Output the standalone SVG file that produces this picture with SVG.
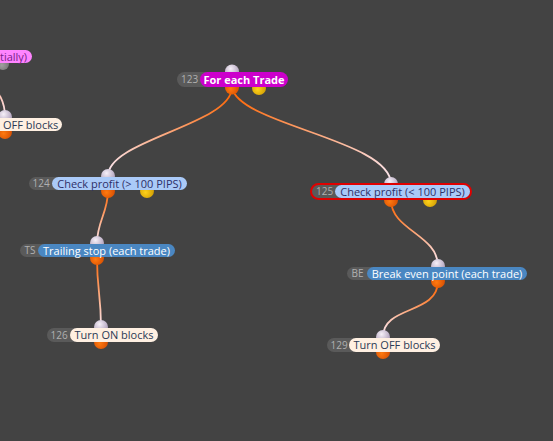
<svg xmlns="http://www.w3.org/2000/svg" width="553" height="441" viewBox="0 0 553 441">
<defs>
<style>
.idp{fill:#5a5a5a}
.idt{font-family:"Open Sans","Noto Sans",sans-serif;font-size:10px;fill:#b0b0b0}
.lt{font-family:"Open Sans","Noto Sans",sans-serif;font-size:11px}
.con{fill:none;stroke-width:1.8}
</style>
<radialGradient id="gIn" cx="0.4" cy="0.3" r="0.7"><stop offset="0" stop-color="#f6f0f8"/><stop offset="1" stop-color="#aa9ab6"/></radialGradient>
<radialGradient id="gOut" cx="0.4" cy="0.6" r="0.7"><stop offset="0" stop-color="#ff7a10"/><stop offset="1" stop-color="#d04800"/></radialGradient>
<radialGradient id="gY" cx="0.4" cy="0.6" r="0.7"><stop offset="0" stop-color="#ffd21a"/><stop offset="1" stop-color="#c89400"/></radialGradient>
<radialGradient id="gG" cx="0.4" cy="0.6" r="0.7"><stop offset="0" stop-color="#a0a0a0"/><stop offset="1" stop-color="#707070"/></radialGradient>
<linearGradient id="c1" gradientUnits="userSpaceOnUse" x1="232" y1="88" x2="108" y2="176"><stop offset="0" stop-color="#ff6400"/><stop offset="1" stop-color="#fbe6ee"/></linearGradient>
<linearGradient id="c2" gradientUnits="userSpaceOnUse" x1="232" y1="88" x2="391" y2="184"><stop offset="0" stop-color="#ff6400"/><stop offset="1" stop-color="#fbe6ee"/></linearGradient>
<linearGradient id="c3" gradientUnits="userSpaceOnUse" x1="108" y1="191" x2="97" y2="243"><stop offset="0" stop-color="#ff6400"/><stop offset="1" stop-color="#fbe6ee"/></linearGradient>
<linearGradient id="c4" gradientUnits="userSpaceOnUse" x1="97" y1="258" x2="101" y2="327"><stop offset="0" stop-color="#ff6400"/><stop offset="1" stop-color="#fbe6ee"/></linearGradient>
<linearGradient id="c5" gradientUnits="userSpaceOnUse" x1="391" y1="200" x2="438" y2="266"><stop offset="0" stop-color="#ff6400"/><stop offset="1" stop-color="#fbe6ee"/></linearGradient>
<linearGradient id="c6" gradientUnits="userSpaceOnUse" x1="438" y1="281" x2="383" y2="337"><stop offset="0" stop-color="#ff6400"/><stop offset="1" stop-color="#fbe6ee"/></linearGradient>
<linearGradient id="c7" gradientUnits="userSpaceOnUse" x1="-12" y1="70" x2="5" y2="117"><stop offset="0" stop-color="#ff9a70"/><stop offset="1" stop-color="#fbe6ee"/></linearGradient>
</defs>
<rect width="553" height="441" fill="#434343"/>

<g id="connectors">
<path class="con" stroke="url(#c1)" d="M232 88 C230 125 108 140 108 176"/>
<path class="con" stroke="url(#c2)" d="M232 88 C240 125 391 140 391 184"/>
<path class="con" stroke="url(#c3)" d="M108 191 C108 212 97 222 97 243"/>
<path class="con" stroke="url(#c4)" d="M97 258 C97 290 101 295 101 327"/>
<path class="con" stroke="url(#c5)" d="M391 200 C391 230 438 235 438 266"/>
<path class="con" stroke="url(#c6)" d="M438 281 C438 315 383 305 383 337"/>
<path class="con" stroke="url(#c7)" d="M-12 80 C-2 92 5 100 5 117"/>
</g>

<g id="node-partial-top">
<circle cx="3" cy="64" r="6" fill="url(#gG)"/>
<rect x="-30" y="50" width="62" height="13" rx="6.5" fill="#ff84ff"/>
<text class="lt" x="0" y="60.5" fill="#7a1e8a">tially)</text>
</g>

<g id="node-partial-off">
<circle cx="5" cy="117" r="7" fill="url(#gIn)"/>
<circle cx="5" cy="132" r="7" fill="url(#gOut)"/>
<rect x="-30" y="118" width="92" height="13" rx="6.5" fill="#fff0e2"/>
<text class="lt" x="3" y="128.5" fill="#2b3a55">OFF blocks</text>
</g>

<g id="node-123">
<circle cx="232" cy="71.5" r="7" fill="url(#gIn)"/>
<circle cx="232" cy="87.5" r="7" fill="url(#gOut)"/>
<circle cx="259" cy="88" r="7" fill="url(#gY)"/>
<rect class="idp" x="177" y="72" width="50" height="15" rx="7.5"/>
<text class="idt" x="181" y="83">123</text>
<rect x="200" y="72" width="88" height="15" rx="7.5" fill="#cc00cc"/>
<text class="lt" x="244" y="83.5" text-anchor="middle" font-weight="bold" fill="#ffffff">For each Trade</text>
</g>

<g id="node-124">
<circle cx="108" cy="176" r="7" fill="url(#gIn)"/>
<circle cx="108" cy="191" r="7" fill="url(#gOut)"/>
<circle cx="147" cy="191" r="7" fill="url(#gY)"/>
<rect class="idp" x="29" y="177" width="40" height="13" rx="6.5"/>
<text class="idt" x="32.5" y="187">124</text>
<rect x="52" y="177" width="135" height="13" rx="6.5" fill="#aacaf8"/>
<text class="lt" x="119.5" y="187.5" text-anchor="middle" fill="#2e3068">Check profit (&gt; 100 PIPS)</text>
</g>

<g id="node-125">
<circle cx="391" cy="184" r="7" fill="url(#gIn)"/>
<circle cx="391" cy="200" r="7" fill="url(#gOut)"/>
<circle cx="430" cy="200" r="7" fill="url(#gY)"/>
<rect x="311" y="184" width="160" height="15" rx="7.5" fill="#5a5a5a" stroke="#e00000" stroke-width="2"/>
<text class="idt" x="316" y="195">125</text>
<rect x="335" y="185" width="135" height="13" rx="6.5" fill="#aacaf8"/>
<text class="lt" x="402.5" y="195.5" text-anchor="middle" fill="#2e3068">Check profit (&lt; 100 PIPS)</text>
</g>

<g id="node-TS">
<circle cx="97" cy="243" r="7" fill="url(#gIn)"/>
<circle cx="97" cy="258" r="7" fill="url(#gOut)"/>
<rect class="idp" x="20" y="244" width="40" height="13" rx="6.5"/>
<text class="idt" x="24.5" y="254">TS</text>
<rect x="38" y="244" width="137" height="13" rx="6.5" fill="#4a87c2"/>
<text class="lt" x="106.5" y="254.5" text-anchor="middle" fill="#ffffff">Trailing stop (each trade)</text>
</g>

<g id="node-BE">
<circle cx="438" cy="266" r="7" fill="url(#gIn)"/>
<circle cx="438" cy="281" r="7" fill="url(#gOut)"/>
<rect class="idp" x="347" y="267" width="40" height="13" rx="6.5"/>
<text class="idt" x="351.5" y="277">BE</text>
<rect x="367" y="267" width="160" height="13" rx="6.5" fill="#4a87c2"/>
<text class="lt" x="447" y="277.5" text-anchor="middle" fill="#ffffff">Break even point (each trade)</text>
</g>

<g id="node-126">
<circle cx="101" cy="327" r="7" fill="url(#gIn)"/>
<circle cx="101" cy="342" r="7" fill="url(#gOut)"/>
<rect class="idp" x="47" y="328" width="40" height="14" rx="7"/>
<text class="idt" x="50.5" y="338.5">126</text>
<rect x="70" y="328" width="88" height="14" rx="7" fill="#fff0e2"/>
<text class="lt" x="114" y="339" text-anchor="middle" fill="#2b3a55">Turn ON blocks</text>
</g>

<g id="node-129">
<circle cx="383" cy="337" r="7" fill="url(#gIn)"/>
<circle cx="383" cy="352" r="7" fill="url(#gOut)"/>
<rect class="idp" x="327" y="338" width="40" height="14" rx="7"/>
<text class="idt" x="330.5" y="348.5">129</text>
<rect x="349" y="338" width="91" height="14" rx="7" fill="#fff0e2"/>
<text class="lt" x="394.5" y="349" text-anchor="middle" fill="#2b3a55">Turn OFF blocks</text>
</g>
</svg>
